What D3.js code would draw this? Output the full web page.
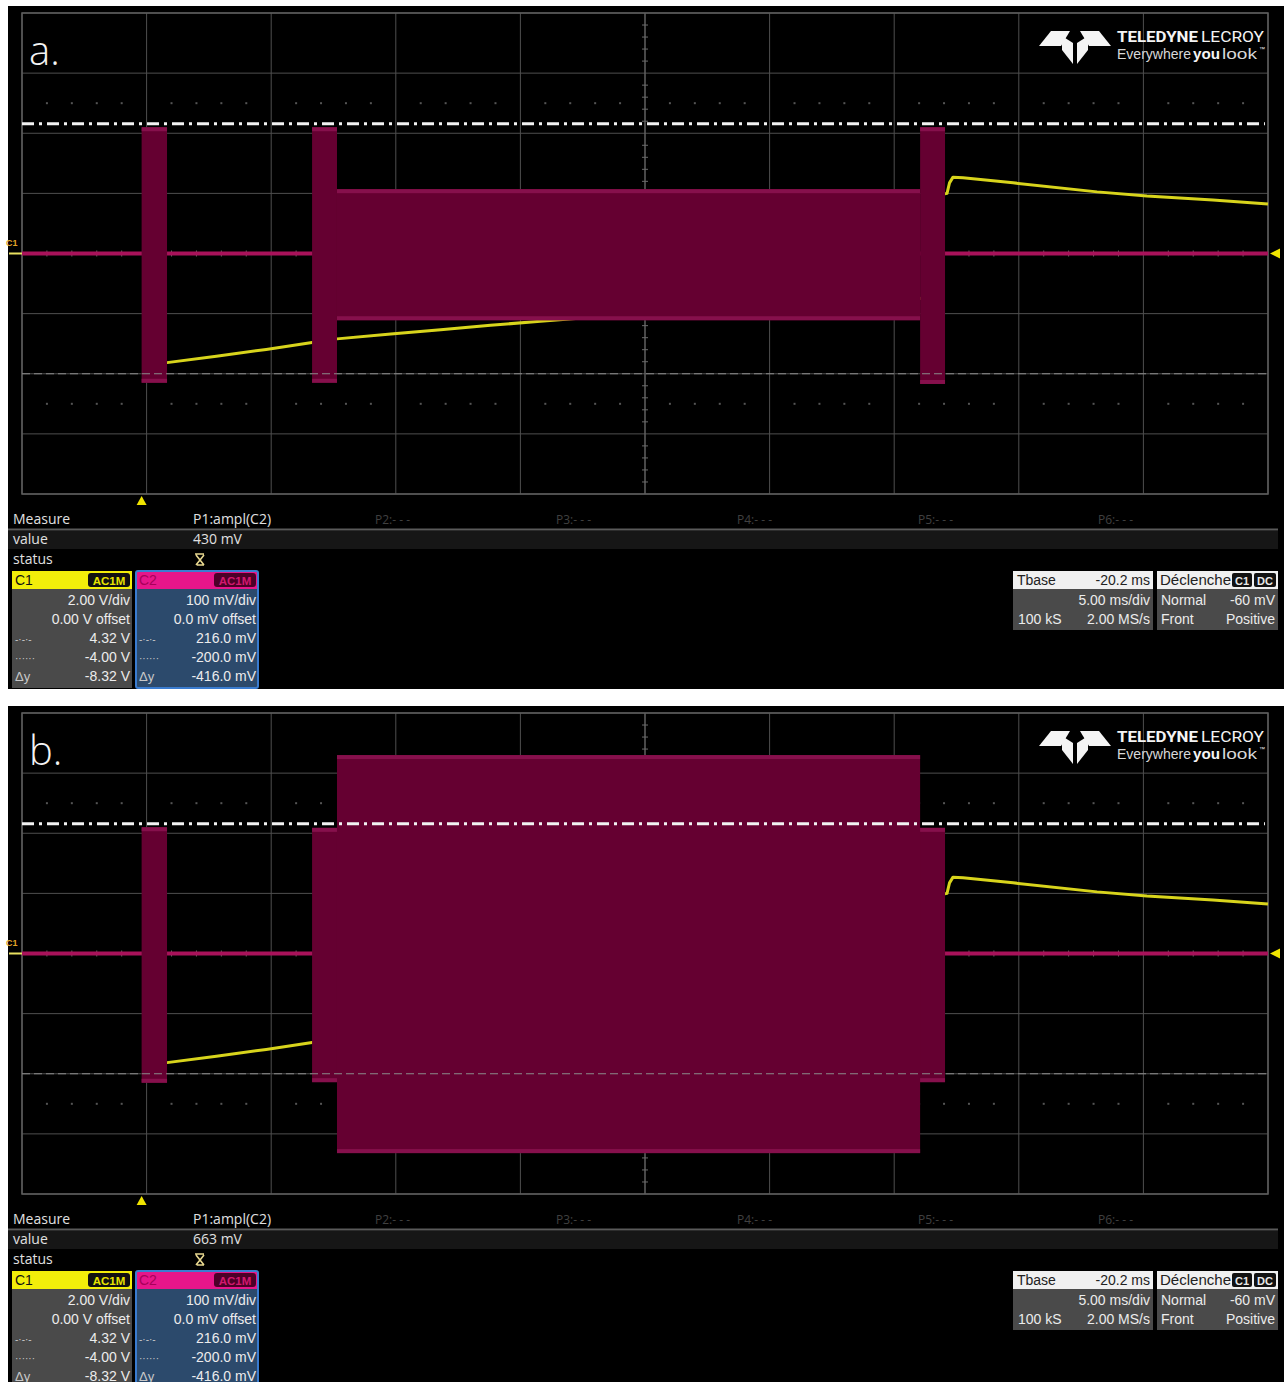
<!DOCTYPE html>
<html><head><meta charset="utf-8">
<script src="https://cdn.jsdelivr.net/npm/d3@7"></script>
<style>html,body{margin:0;padding:0;background:#fff;} svg{display:block;}</style>
</head><body><svg id="c" width="1285" height="1382"></svg>
<script>
// ---------------- DATA ----------------
const panelLabels = ["a.", "b."];
const measureValues = ["430 mV", "663 mV"];
const timeDomainMs = [-4.8, 45.2];          // 10 div x 5 ms/div, trigger at 0
const c1DomainV = [-8, 8];                  // 2.00 V/div, 8 div
const c2DomainMv = [-400, 400];             // 100 mV/div, 8 div
const centerTimeMs = 20.2;
// C2 envelope segments: [t0 ms, t1 ms, high mV, low mV]
const c2EnvelopeA = [[0, 1.02, 210, -215], [6.84, 7.84, 210, -215], [7.84, 31.24, 107, -111], [31.24, 32.24, 210, -217]];
const c2EnvelopeB = [[0, 1.02, 210, -215], [6.84, 32.24, 209, -214], [7.84, 31.24, 330, -332]];
// C1 trace: [t ms, V]
const c1Trace = [[-4.8, 0], [0.1, 0], [0.15, -3.70], [1.02, -3.63], [3.0, -3.42], [5.0, -3.19], [6.84, -2.96],
  [7.84, -2.84], [10, -2.68], [12, -2.54], [14, -2.39], [16, -2.25], [20, -2.0], [25, -1.75], [31.2, -1.5],
  [32.0, -1.45], [32.05, 1.95], [32.32, 2.0], [32.42, 2.35], [32.56, 2.54], [32.96, 2.52], [34.97, 2.35], [38.34, 2.05],
  [40.34, 1.91], [42.99, 1.78], [45.2, 1.65]];
const cursorLevelsMv = [216, -200];
const measureSlots = ["P1:ampl(C2)", "P2:- - -", "P3:- - -", "P4:- - -", "P5:- - -", "P6:- - -"];
const measureRowLabels = ["Measure", "value", "status"];
const c1Rows = [["", "2.00 V/div"], ["", "0.00 V offset"], ["-·-·-", "4.32 V"], ["······", "-4.00 V"], ["Δy", "-8.32 V"]];
const c2Rows = [["", "100 mV/div"], ["", "0.0 mV offset"], ["-·-·-", "216.0 mV"], ["······", "-200.0 mV"], ["Δy", "-416.0 mV"]];
const timebaseHeader = ["Tbase", "-20.2 ms"];
const timebaseRows = [["", "5.00 ms/div"], ["100 kS", "2.00 MS/s"]];
const triggerHeader = ["Déclenche", "C1", "DC"];
const triggerRows = [["Normal", "-60 mV"], ["Front", "Positive"]];

// ---------------- LAYOUT ----------------
const W = 1285, H = 1382;
const PX0 = 22, PX1 = 1268, PY0 = 13, PY1 = 494;
const offsets = [0, 700];
const svg = d3.select("#c");
svg.append("rect").attr("width", W).attr("height", H).attr("fill", "#fff");

const x = d3.scaleLinear().domain(timeDomainMs).range([PX0, PX1]);
const yC1 = d3.scaleLinear().domain(c1DomainV).range([PY1, PY0]);
const yC2 = d3.scaleLinear().domain(c2DomainMv).range([PY1, PY0]);

const SANS = "'Liberation Sans', Arial, sans-serif";
const UI = "'Open Sans', 'DejaVu Sans', sans-serif";

function drawPanel(i) {
  const g = svg.append("g").attr("transform", `translate(0,${offsets[i]})`);
  const env = i === 0 ? c2EnvelopeA : c2EnvelopeB;
  g.append("rect").attr("x", 8).attr("y", 6).attr("width", 1276).attr("height", 684).attr("fill", "#000");

  // grid
  const grid = g.append("g").attr("stroke", "#4f4f4f").attr("stroke-width", 1);
  const vt = d3.range(0, 11).map(k => timeDomainMs[0] + k * 5);
  grid.selectAll("line.v").data(vt).join("line")
    .attr("x1", d => x(d)).attr("x2", d => x(d)).attr("y1", PY0).attr("y2", PY1);
  const ht = d3.range(-400, 401, 100);
  grid.selectAll("line.h").data(ht).join("line")
    .attr("x1", PX0).attr("x2", PX1).attr("y1", d => yC2(d)).attr("y2", d => yC2(d));
  // minor dots rows
  const minorT = d3.range(0, 51).map(k => timeDomainMs[0] + k).filter((d, k) => k % 5 !== 0);
  [250, -250].forEach(lv => {
    g.append("g").selectAll("rect").data(minorT).join("rect")
      .attr("x", d => x(d) - 1).attr("y", yC2(lv) - 1).attr("width", 2).attr("height", 2).attr("fill", "#555");
  });
  // center axis ticks
  const cx = x(centerTimeMs);
  const vTicks = d3.range(-400, 401, 20).filter(d => d % 100 !== 0);
  g.append("g").attr("stroke", "#6a6a6a").selectAll("line").data(vTicks).join("line")
    .attr("x1", cx - 3).attr("x2", cx + 3).attr("y1", d => yC2(d)).attr("y2", d => yC2(d));
  g.append("line").attr("x1", cx).attr("x2", cx).attr("y1", PY0).attr("y2", PY1).attr("stroke", "#6a6a6a");
  const hTicks = d3.range(0, 51).map(k => timeDomainMs[0] + k).filter((d, k) => k % 5 !== 0);
  g.append("g").attr("stroke", "#6a6a6a").selectAll("line").data(hTicks).join("line")
    .attr("x1", d => x(d)).attr("x2", d => x(d)).attr("y1", yC2(0) - 3).attr("y2", yC2(0) + 3);
  // frame
  g.append("rect").attr("x", PX0).attr("y", PY0).attr("width", PX1 - PX0).attr("height", PY1 - PY0)
    .attr("fill", "none").attr("stroke", "#5e5e5e").attr("stroke-width", 1.5);

  // C1 trace
  const line = d3.line().x(d => x(d[0])).y(d => yC1(d[1]));
  g.append("path").datum(c1Trace).attr("d", line).attr("fill", "none")
    .attr("stroke", "#d8d41c").attr("stroke-width", 3).attr("stroke-linejoin", "round");

  // C2 baseline and envelopes
  g.append("line").attr("x1", x(timeDomainMs[0])).attr("x2", x(timeDomainMs[1]))
    .attr("y1", yC2(0)).attr("y2", yC2(0)).attr("stroke", "#a8125a").attr("stroke-width", 4);
  env.forEach(e => {
    const [t0, t1, hi, lo] = e;
    g.append("rect").attr("x", x(t0)).attr("y", yC2(hi)).attr("width", x(t1) - x(t0))
      .attr("height", yC2(lo) - yC2(hi)).attr("fill", "#650031");
    [hi, lo].forEach(v => {
      g.append("rect").attr("x", x(t0)).attr("width", x(t1) - x(t0))
        .attr("y", v > 0 ? yC2(v) : yC2(v) - 4).attr("height", 4).attr("fill", "#86104c");
    });
  });

  // cursors
  g.append("line").attr("x1", PX0).attr("x2", PX1 - 3).attr("y1", yC2(cursorLevelsMv[0])).attr("y2", yC2(cursorLevelsMv[0]))
    .attr("stroke", "#f2f2f2").attr("stroke-width", 3).attr("stroke-dasharray", "12,5,3,5");
  g.append("line").attr("x1", PX0).attr("x2", PX1).attr("y1", yC2(cursorLevelsMv[1])).attr("y2", yC2(cursorLevelsMv[1]))
    .attr("stroke", "#8a8a8a").attr("stroke-width", 1.2).attr("stroke-dasharray", "8,4");

  // markers
  g.append("path").attr("d", `M${x(0)},${PY1 + 2} l-5,9 l10,0 z`).attr("fill", "#f0e400");
  g.append("path").attr("d", `M${PX1 + 2},${yC2(0)} l10,-5 l0,10 z`).attr("fill", "#f0e400");
  g.append("text").attr("x", 6).attr("y", yC2(0) - 8).text("C1").attr("font-family", SANS)
    .attr("font-size", 9).attr("font-weight", "bold").attr("fill", "#e0a428");
  g.append("line").attr("x1", 9).attr("x2", PX0).attr("y1", yC2(0)).attr("y2", yC2(0))
    .attr("stroke", "#e8e060").attr("stroke-width", 2);

  // panel label
  g.append("text").attr("x", 29).attr("y", 65).text(panelLabels[i]).attr("font-family", UI)
    .attr("font-weight", 300).attr("font-size", 40).attr("fill", "#f4f4f4");

  // logo
  const lg = g.append("g").attr("fill", "#f4f4f4");
  lg.append("path").attr("d", "M1039,46 L1051,31 L1070,31 L1061,46 Z");
  lg.append("path").attr("d", "M1111,46 L1099,31 L1080,31 L1089,46 Z");
  lg.append("path").attr("d", "M1062,36 L1073,43 L1073,64 L1062,50 Z");
  lg.append("path").attr("d", "M1088,36 L1077,43 L1077,64 L1088,50 Z");
  lg.append("text").attr("x", 1117).attr("y", 42).text("TELEDYNE").attr("font-family", "Roboto, sans-serif")
    .attr("font-weight", "bold").attr("font-size", 15.5).attr("textLength", 81).attr("lengthAdjust", "spacingAndGlyphs");
  lg.append("text").attr("x", 1201).attr("y", 42).text("LECROY").attr("font-family", "Roboto, sans-serif")
    .attr("font-size", 15.5).attr("textLength", 63).attr("lengthAdjust", "spacingAndGlyphs");
  lg.append("text").attr("x", 1117).attr("y", 59).text("Everywhere").attr("font-family", SANS)
    .attr("font-size", 14).attr("textLength", 74).attr("lengthAdjust", "spacingAndGlyphs").attr("fill", "#d8d8d8");
  lg.append("text").attr("x", 1193).attr("y", 59).text("you").attr("font-family", SANS).attr("font-weight", "bold")
    .attr("font-size", 14).attr("textLength", 27).attr("lengthAdjust", "spacingAndGlyphs");
  lg.append("text").attr("x", 1222).attr("y", 59).text("look").attr("font-family", SANS)
    .attr("font-size", 14).attr("textLength", 35).attr("lengthAdjust", "spacingAndGlyphs").attr("fill", "#d8d8d8");
  lg.append("text").attr("x", 1259).attr("y", 51).text("™").attr("font-family", SANS).attr("font-size", 6);

  // measure table
  g.append("rect").attr("x", 8).attr("y", 531).attr("width", 1270).attr("height", 18).attr("fill", "#161616");
  g.append("line").attr("x1", 8).attr("x2", 1278).attr("y1", 529.5).attr("y2", 529.5).attr("stroke", "#5a5a5a").attr("stroke-width", 2);
  const rowY = [524, 544, 564];
  measureRowLabels.forEach((t, k) => g.append("text").attr("x", 13).attr("y", rowY[k]).text(t)
    .attr("font-family", UI).attr("font-size", 14).attr("fill", "#e0e0e0"));
  const slotX = [193, 375, 556, 737, 918, 1098];
  measureSlots.forEach((t, k) => g.append("text").attr("x", slotX[k]).attr("y", 524).text(t)
    .attr("font-family", UI).attr("font-size", k === 0 ? 14 : 12).attr("fill", k === 0 ? "#e0e0e0" : "#404040"));
  g.append("text").attr("x", 193).attr("y", 544).text(measureValues[i]).attr("font-family", UI)
    .attr("font-size", 14).attr("fill", "#e0e0e0");
  // status icon
  g.append("path").attr("d", "M195,554 h9 M196,555 L204,565 M204,555 L196,565 M197,565 h7")
    .attr("stroke", "#e8d890").attr("stroke-width", 1.6).attr("fill", "none");

  // channel boxes
  function chanBox(x0, x1, headBg, name, nameColor, badgeBg, badgeColor, bodyBg, rows, border) {
    g.append("rect").attr("x", x0).attr("y", 589).attr("width", x1 - x0).attr("height", 99).attr("fill", bodyBg);
    g.append("rect").attr("x", x0).attr("y", 571).attr("width", x1 - x0).attr("height", 18).attr("fill", headBg);
    if (border) g.append("rect").attr("x", x0).attr("y", 571).attr("width", x1 - x0).attr("height", 117)
      .attr("fill", "none").attr("stroke", border).attr("stroke-width", 2).attr("rx", 2);
    g.append("text").attr("x", x0 + 3).attr("y", 585).text(name).attr("font-family", SANS)
      .attr("font-size", 14).attr("fill", nameColor);
    g.append("rect").attr("x", x1 - 44).attr("y", 573).attr("width", 42).attr("height", 14).attr("rx", 3).attr("fill", badgeBg);
    g.append("text").attr("x", x1 - 23).attr("y", 584.5).attr("text-anchor", "middle").text("AC1M")
      .attr("font-family", SANS).attr("font-size", 11.5).attr("font-weight", "bold").attr("fill", badgeColor);
    rows.forEach((r, k) => {
      const yy = 605 + k * 19;
      if (r[0]) g.append("text").attr("x", x0 + 3).attr("y", yy).text(r[0]).attr("font-family", SANS)
        .attr("font-size", r[0] === "Δy" ? 13 : 10).attr("fill", "#c8c8c8");
      g.append("text").attr("x", x1 - 2).attr("y", yy).attr("text-anchor", "end").text(r[1])
        .attr("font-family", SANS).attr("font-size", 14).attr("fill", "#ececec");
    });
  }
  chanBox(12, 132, "#f2ee0a", "C1", "#111", "#111", "#e8e400", "#4a4a4a", c1Rows, null);
  chanBox(136, 258, "#e6168a", "C2", "#a8005a", "#4c0028", "#d2186e", "#2c4a6c", c2Rows, "#3a7cd0");

  // timebase box
  g.append("rect").attr("x", 1013).attr("y", 589).attr("width", 140).attr("height", 41).attr("fill", "#4a4a4a");
  g.append("rect").attr("x", 1013).attr("y", 571).attr("width", 140).attr("height", 18).attr("fill", "#f0f0f0");
  g.append("text").attr("x", 1017).attr("y", 585).text(timebaseHeader[0]).attr("font-family", SANS).attr("font-size", 14).attr("fill", "#222");
  g.append("text").attr("x", 1150).attr("y", 585).attr("text-anchor", "end").text(timebaseHeader[1]).attr("font-family", SANS).attr("font-size", 14).attr("fill", "#222");
  timebaseRows.forEach((r, k) => {
    const yy = 605 + k * 19;
    if (r[0]) g.append("text").attr("x", 1018).attr("y", yy).text(r[0]).attr("font-family", SANS).attr("font-size", 14).attr("fill", "#ececec");
    g.append("text").attr("x", 1150).attr("y", yy).attr("text-anchor", "end").text(r[1]).attr("font-family", SANS).attr("font-size", 14).attr("fill", "#ececec");
  });
  // trigger box
  g.append("rect").attr("x", 1157).attr("y", 589).attr("width", 121).attr("height", 41).attr("fill", "#4a4a4a");
  g.append("rect").attr("x", 1157).attr("y", 571).attr("width", 121).attr("height", 18).attr("fill", "#f0f0f0");
  g.append("text").attr("x", 1160).attr("y", 585).text(triggerHeader[0]).attr("font-family", SANS).attr("font-size", 14)
    .attr("fill", "#222").attr("textLength", 71).attr("lengthAdjust", "spacingAndGlyphs");
  g.append("rect").attr("x", 1232).attr("y", 573).attr("width", 20).attr("height", 14).attr("rx", 2).attr("fill", "#111");
  g.append("text").attr("x", 1242).attr("y", 584.5).attr("text-anchor", "middle").text(triggerHeader[1]).attr("font-family", SANS)
    .attr("font-size", 11).attr("font-weight", "bold").attr("fill", "#e8e8e8");
  g.append("rect").attr("x", 1254).attr("y", 573).attr("width", 22).attr("height", 14).attr("rx", 2).attr("fill", "#111");
  g.append("text").attr("x", 1265).attr("y", 584.5).attr("text-anchor", "middle").text(triggerHeader[2]).attr("font-family", SANS)
    .attr("font-size", 11).attr("font-weight", "bold").attr("fill", "#e8e8e8");
  triggerRows.forEach((r, k) => {
    const yy = 605 + k * 19;
    g.append("text").attr("x", 1161).attr("y", yy).text(r[0]).attr("font-family", SANS).attr("font-size", 14).attr("fill", "#ececec");
    g.append("text").attr("x", 1275).attr("y", yy).attr("text-anchor", "end").text(r[1]).attr("font-family", SANS).attr("font-size", 14).attr("fill", "#ececec");
  });
}
drawPanel(0);
drawPanel(1);
// white gap between panels
svg.append("rect").attr("x", 0).attr("y", 689).attr("width", W).attr("height", 17).attr("fill", "#fff");
</script></body></html>
